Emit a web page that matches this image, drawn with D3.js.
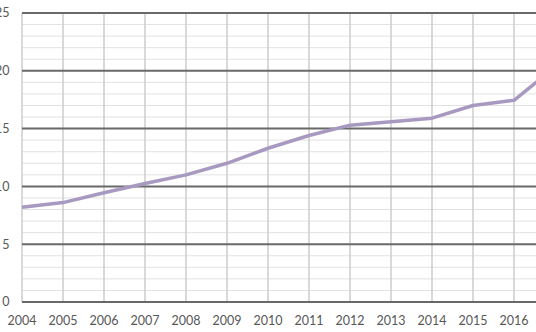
<!DOCTYPE html>
<html>
<head>
<meta charset="utf-8">
<script src="https://cdn.jsdelivr.net/npm/d3@7"></script>
<style>
  html, body { margin: 0; padding: 0; background: #fff; overflow: hidden; }
  svg { display: block; }
  text { font-family: Lato, "Open Sans", sans-serif; fill: #575757; font-size: 12.5px; }
</style>
</head>
<body>
<svg id="chart" width="536" height="332"></svg>
<script>
// Yearly series
const years  = [2004, 2005, 2006, 2007, 2008, 2009, 2010, 2011, 2012, 2013, 2014, 2015, 2016, 2017];
const values = [8.2, 8.6, 9.45, 10.25, 11.0, 12.0, 13.3, 14.4, 15.3, 15.6, 15.9, 17.0, 17.45, 20.3];
const xTickYears = [2004, 2005, 2006, 2007, 2008, 2009, 2010, 2011, 2012, 2013, 2014, 2015, 2016];
const yMajorTicks = [0, 5, 10, 15, 20, 25];
const yMinorTicks = d3.range(0, 26, 1).filter(v => v % 5 !== 0);

const svg = d3.select("#chart");
const W = 536, H = 332;

const x = d3.scaleLinear().domain([2004, 2016]).range([22, 514]);
const y = d3.scaleLinear().domain([0, 25]).range([302, 13]);

const g = svg.append("g");

// minor horizontal gridlines
g.append("g").selectAll("line").data(yMinorTicks).join("line")
  .attr("x1", x(2004)).attr("x2", W)
  .attr("y1", d => y(d)).attr("y2", d => y(d))
  .attr("stroke", "#e2e2e2").attr("stroke-width", 1);

// vertical gridlines
g.append("g").selectAll("line").data(xTickYears).join("line")
  .attr("x1", d => x(d)).attr("x2", d => x(d))
  .attr("y1", y(25)).attr("y2", y(0))
  .attr("stroke", "#cdcdcd").attr("stroke-width", 1.5);

// major horizontal gridlines
g.append("g").selectAll("line").data(yMajorTicks).join("line")
  .attr("x1", x(2004)).attr("x2", W)
  .attr("y1", d => y(d)).attr("y2", d => y(d))
  .attr("stroke", "#696969").attr("stroke-width", 2);

// y labels
g.append("g").selectAll("text").data(yMajorTicks).join("text")
  .attr("x", 9.5).attr("y", d => y(d))
  .attr("dy", "0.35em")
  .attr("text-anchor", "end")
  .text(d => d);

// x labels
g.append("g").selectAll("text").data(xTickYears).join("text")
  .attr("x", d => x(d)).attr("y", 325)
  .attr("text-anchor", "middle")
  .text(d => d);

// series line
const line = d3.line().x((d, i) => x(years[i])).y(d => y(d));
g.append("path")
  .datum(values)
  .attr("d", line)
  .attr("fill", "none")
  .attr("stroke", "#a899c1")
  .attr("stroke-width", 3.5)
  .attr("stroke-linejoin", "round");
</script>
</body>
</html>
